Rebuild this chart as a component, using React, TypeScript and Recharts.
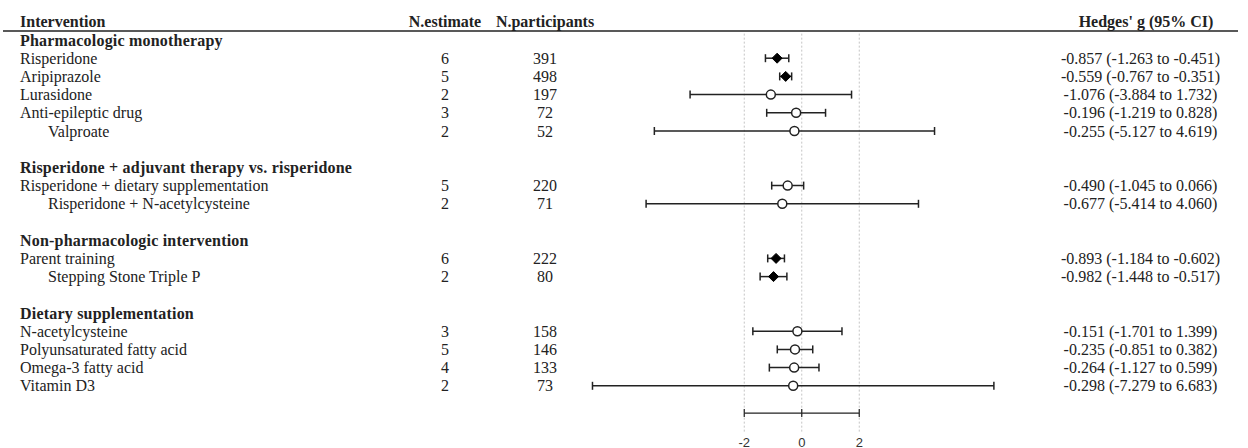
import React from "react";
import { ScatterChart, Scatter, XAxis, YAxis, ErrorBar, ReferenceLine } from "recharts";

// one entry per row slot of the table (blank slots separate the sections)
const interventions = [
  "Pharmacologic monotherapy",
  "Risperidone",
  "Aripiprazole",
  "Lurasidone",
  "Anti-epileptic drug",
  "Valproate",
  "",
  "Risperidone + adjuvant therapy vs. risperidone",
  "Risperidone + dietary supplementation",
  "Risperidone + N-acetylcysteine",
  "",
  "Non-pharmacologic intervention",
  "Parent training",
  "Stepping Stone Triple P",
  "",
  "Dietary supplementation",
  "N-acetylcysteine",
  "Polyunsaturated fatty acid",
  "Omega-3 fatty acid",
  "Vitamin D3",
];
const rowKinds = [
  "section", "item", "item", "item", "item", "sub", "blank",
  "section", "item", "sub", "blank",
  "section", "item", "sub", "blank",
  "section", "item", "item", "item", "item",
];
const nEstimate = [null, 6, 5, 2, 3, 2, null, null, 5, 2, null, null, 6, 2, null, null, 3, 5, 4, 2];
const nParticipants = [null, 391, 498, 197, 72, 52, null, null, 220, 71, null, null, 222, 80, null, null, 158, 146, 133, 73];
const hedgesG = [null, -0.857, -0.559, -1.076, -0.196, -0.255, null, null, -0.49, -0.677, null, null, -0.893, -0.982, null, null, -0.151, -0.235, -0.264, -0.298];
const ciLow = [null, -1.263, -0.767, -3.884, -1.219, -5.127, null, null, -1.045, -5.414, null, null, -1.184, -1.448, null, null, -1.701, -0.851, -1.127, -7.279];
const ciHigh = [null, -0.451, -0.351, 1.732, 0.828, 4.619, null, null, 0.066, 4.06, null, null, -0.602, -0.517, null, null, 1.399, 0.382, 0.599, 6.683];

const columnHeaders = ["Intervention", "N.estimate", "N.participants", "Hedges' g (95% CI)"];
const axisTicks = [-2, 0, 2];

const W = 1248;
const H = 448;
const ROW = 18.2;
const TOP = 21.8;
const PLOT_LEFT = 571.75;
const PLOT_RIGHT = 1031.75;
const X_DOMAIN: [number, number] = [-8, 8];
const Y_DOMAIN: [number, number] = [-1, 21];
const PLOT_BOTTOM = TOP + (Y_DOMAIN[1] - Y_DOMAIN[0]) * ROW;

const COL_NAME = 20;
const COL_SUB = 48;
const COL_NEST = 445;
const COL_NPART = 545;
const COL_G = 1140.5;
const COL_G_HEAD = 1146;

const serif = "'Liberation Serif', 'Times New Roman', serif";
const ink = "#222";

const points = interventions
  .map((_, i) => i)
  .filter((i) => hedgesG[i] !== null)
  .map((i) => {
    const g = hedgesG[i] as number;
    const lo = ciLow[i] as number;
    const hi = ciHigh[i] as number;
    return { x: g, y: i, err: [g - lo, hi - g], sig: hi < 0 || lo > 0 };
  });
const sigPoints = points.filter((p) => p.sig);
const nsPoints = points.filter((p) => !p.sig);

const rowSlots = [-1, ...interventions.map((_, i) => i)];

const fmt = (v: number) => v.toFixed(3);

const RowTick = (props: any) => {
  const { y, payload } = props;
  const i = payload.value as number;
  const base = { y, fontFamily: serif, fontSize: 16, fill: ink, dy: "0.35em" };
  if (i === -1) {
    return (
      <g>
        <text {...base} x={COL_NAME} fontWeight="bold">{columnHeaders[0]}</text>
        <text {...base} x={COL_NEST} textAnchor="middle" fontWeight="bold">{columnHeaders[1]}</text>
        <text {...base} x={COL_NPART} textAnchor="middle" fontWeight="bold">{columnHeaders[2]}</text>
        <text {...base} x={COL_G_HEAD} textAnchor="middle" fontWeight="bold">{columnHeaders[3]}</text>
        <line x1={3} x2={1238} y1={y + 9.2} y2={y + 9.2} stroke="#222" strokeWidth={1.6} />
      </g>
    );
  }
  const kind = rowKinds[i];
  if (kind === "blank") return <g />;
  if (kind === "section") {
    return (
      <text {...base} x={COL_NAME} fontWeight="bold" letterSpacing={0.2}>{interventions[i]}</text>
    );
  }
  const g = hedgesG[i] as number;
  return (
    <g>
      <text {...base} x={kind === "sub" ? COL_SUB : COL_NAME}>{interventions[i]}</text>
      <text {...base} x={COL_NEST} textAnchor="middle">{nEstimate[i]}</text>
      <text {...base} x={COL_NPART} textAnchor="middle">{nParticipants[i]}</text>
      <text {...base} x={COL_G} textAnchor="middle">
        {`${fmt(g)} (${fmt(ciLow[i] as number)} to ${fmt(ciHigh[i] as number)})`}
      </text>
    </g>
  );
};

const AxisTick = (props: any) => (
  <text
    x={props.x}
    y={props.y}
    dy="0.71em"
    textAnchor="middle"
    fontFamily="'Liberation Sans', Arial, sans-serif"
    fontSize={13}
    fill="#333"
  >
    {props.payload.value}
  </text>
);

const Diamond = (p: any) => (
  <polygon
    points={`${p.cx},${p.cy - 5} ${p.cx + 5},${p.cy} ${p.cx},${p.cy + 5} ${p.cx - 5},${p.cy}`}
    fill="#000"
    stroke="#000"
    strokeWidth={1}
  />
);

const OpenCircle = (p: any) => (
  <circle cx={p.cx} cy={p.cy} r={4.5} fill="#fff" stroke="#222" strokeWidth={1.5} />
);

export default function App() {
  return (
    <div style={{ position: "absolute", left: 0, top: 0, background: "#fff" }}>
      <ScatterChart
        width={W}
        height={H}
        margin={{ top: TOP, right: W - PLOT_RIGHT, bottom: 0, left: 0 }}
      >
        <XAxis
          type="number"
          dataKey="x"
          domain={X_DOMAIN}
          ticks={axisTicks}
          allowDataOverflow
          axisLine={false}
          tickLine={false}
          tickSize={0}
          tickMargin={16}
          height={H - PLOT_BOTTOM}
          tick={AxisTick}
        />
        <YAxis
          type="number"
          dataKey="y"
          domain={Y_DOMAIN}
          reversed
          allowDataOverflow
          ticks={rowSlots}
          interval={0}
          width={PLOT_LEFT}
          axisLine={false}
          tickLine={false}
          tick={RowTick}
        />
        {axisTicks.map((t) => (
          <ReferenceLine
            key={`grid${t}`}
            segment={[{ x: t, y: -0.35 }, { x: t, y: 21.6 }]}
            stroke="#c4c4c4"
            strokeDasharray="2 2"
            ifOverflow="visible"
          />
        ))}
        <ReferenceLine
          segment={[
            { x: axisTicks[0], y: 20.5 },
            { x: axisTicks[axisTicks.length - 1], y: 20.5 },
          ]}
          stroke="#222"
          strokeWidth={1.3}
          ifOverflow="visible"
        />
        {axisTicks.map((t) => (
          <ReferenceLine
            key={`tick${t}`}
            segment={[{ x: t, y: 20.28 }, { x: t, y: 20.72 }]}
            stroke="#222"
            strokeWidth={1.2}
            ifOverflow="visible"
          />
        ))}
        <Scatter data={nsPoints} shape={OpenCircle} isAnimationActive={false}>
          <ErrorBar dataKey="err" direction="x" width={4} stroke="#222" strokeWidth={1.5} />
        </Scatter>
        <Scatter data={sigPoints} shape={Diamond} isAnimationActive={false}>
          <ErrorBar dataKey="err" direction="x" width={4} stroke="#222" strokeWidth={1.5} />
        </Scatter>
      </ScatterChart>
    </div>
  );
}
